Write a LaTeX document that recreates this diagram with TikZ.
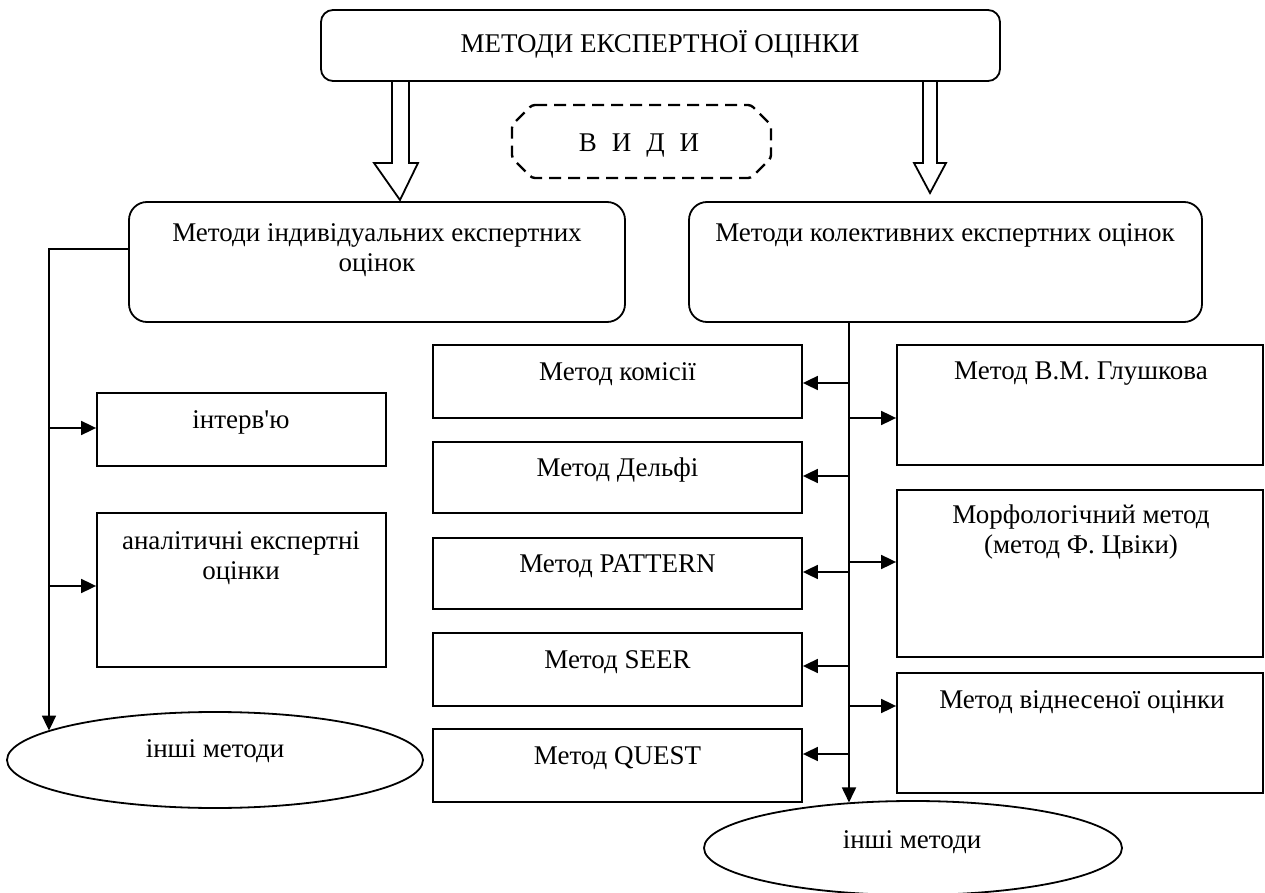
\documentclass[tikz,border=0pt]{standalone}
\usepackage{fontspec}
\setmainfont{Liberation Serif}
\usetikzlibrary{arrows.meta,fit,shapes.geometric}
\begin{document}
\begin{tikzpicture}[x=0.5pt,y=-0.5pt,
  every node/.style={font=\fontsize{13.5}{15}\selectfont},
  box/.style={draw, line width=0.9pt, inner sep=0pt},
  rtop/.style={box, rounded corners=6pt},
  rmid/.style={box, rounded corners=9pt},
  txt/.style={anchor=base, inner sep=0pt, align=center},
  arr/.style={line width=0.9pt, -{Triangle[length=7.5pt,width=7pt]}},
  hollow/.style={line width=0.9pt, line join=miter},
  oval/.style={draw, ellipse, line width=0.9pt, inner sep=0pt}]
\useasboundingbox[fill=white] (0,0) rectangle (1265,893);

% top
\node[rtop, fit={(321,10)(1000,81)}] (top) {};
\node[txt] (toptxt) at (660,53) {МЕТОДИ ЕКСПЕРТНОЇ ОЦІНКИ};

% dashed label
\draw[line width=1.2pt, dash pattern=on 6pt off 3.5pt, rounded corners=1.5pt]
  (532,105) -- (751,105) -- (771,125) -- (771,158) -- (751,178) -- (532,178) -- (512,158) -- (512,125) -- cycle;
\node[txt] (vydy) at (639,152) {В\hspace{7.5pt}И\hspace{7.5pt}Д\hspace{7.5pt}И};

% hollow arrows
\draw[hollow] (392,81) -- (392,163) -- (374,163) -- (400,200) -- (418,163) -- (409,163) -- (409,81);
\draw[hollow] (923,81) -- (923,163) -- (914,163) -- (930,193) -- (946,163) -- (937,163) -- (937,81);

% middle
\node[rmid, fit={(129,202)(625,322)}] (lm) {};
\node[txt] (lmt) at (377,272) {Методи індивідуальних експертних\\оцінок};
\node[rmid, fit={(689,202)(1202,322)}] (rm) {};
\node[txt] (rmt) at (945,242) {Методи колективних експертних оцінок};

% left branch
\node[box, fit={(97,393)(386,466)}] (intv) {};
\node[txt] (intvt) at (241,429) {інтерв\textquotesingle ю};
\node[box, fit={(97,513)(386,667)}] (anal) {};
\node[txt] (analt) at (241,579) {аналітичні експертні\\оцінки};
\node[oval, minimum width=208pt, minimum height=48pt] (lell) at (215,760) {};
\node[txt] (lellt) at (215,757) {інші методи};

\coordinate (lj) at (49,249);
\draw[arr] (lm.west |- lj) -- (lj) -- (lj |- lell.170);
\draw[arr] (49,428) -- (intv.west |- 0,428);
\draw[arr] (49,586) -- (anal.west |- 0,586);

% right branch, left column
\node[box, fit={(433,345)(802,418)}] (c1) {};
\node[txt] (c1t) at (617.5,381) {Метод комісії};
\node[box, fit={(433,442)(802,513)}] (c2) {};
\node[txt] (c2t) at (617.5,477) {Метод Дельфі};
\node[box, fit={(433,538)(802,609)}] (c3) {};
\node[txt] (c3t) at (617.5,572) {Метод PATTERN};
\node[box, fit={(433,633)(802,706)}] (c4) {};
\node[txt] (c4t) at (617.5,668) {Метод SEER};
\node[box, fit={(433,729)(802,802)}] (c5) {};
\node[txt] (c5t) at (617.5,764) {Метод QUEST};

% right column
\node[box, fit={(897,345)(1263,465)}] (d1) {};
\node[txt] (d1t) at (1081,380) {Метод В.М. Глушкова};
\node[box, fit={(897,490)(1263,657)}] (d2) {};
\node[txt] (d2t) at (1081,553) {Морфологічний метод\\(метод Ф. Цвіки)};
\node[box, fit={(897,673)(1263,793)}] (d3) {};
\node[txt] (d3t) at (1082,708) {Метод віднесеної оцінки};

\node[oval, minimum width=209pt, minimum height=47pt] (rell) at (913,848) {};
\node[txt] (rellt) at (912,848) {інші методи};

\coordinate (rt) at (849,322);
\draw[arr] (rt) -- (rt |- rell.145);
\draw[arr] (849,383) -- (c1.east |- 0,383);
\draw[arr] (849,476) -- (c2.east |- 0,476);
\draw[arr] (849,572) -- (c3.east |- 0,572);
\draw[arr] (849,666) -- (c4.east |- 0,666);
\draw[arr] (849,754) -- (c5.east |- 0,754);
\draw[arr] (849,418) -- (d1.west |- 0,418);
\draw[arr] (849,562) -- (d2.west |- 0,562);
\draw[arr] (849,706) -- (d3.west |- 0,706);
\end{tikzpicture}
\end{document}
